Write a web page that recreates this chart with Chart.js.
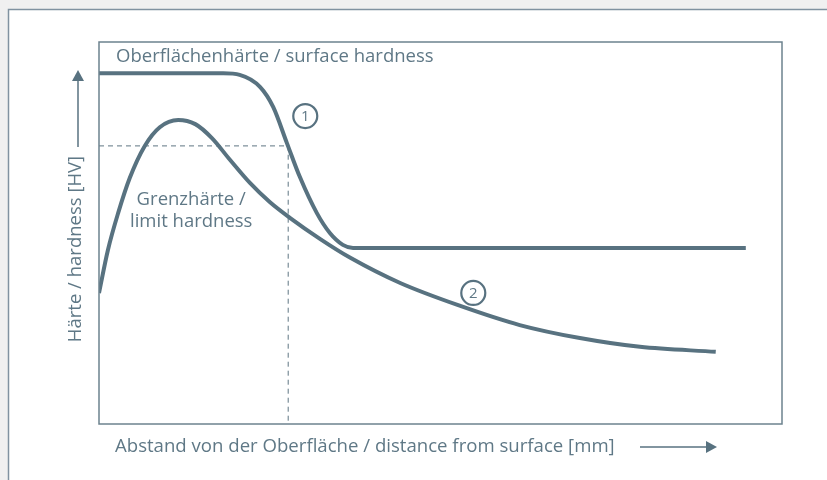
<!DOCTYPE html>
<html>
<head>
<meta charset="utf-8">
<script src="https://cdn.jsdelivr.net/npm/chart.js@4.4.1/dist/chart.umd.min.js"></script>
<style>
	html, body { margin: 0; padding: 0; background: #f0f0f0; }
	#wrap { width: 827px; height: 480px; position: relative; }
</style>
</head>
<body>
<div id="wrap"><canvas id="hardnessChart" width="827" height="480"></canvas></div>
<script>
// distance from surface (relative units 0..100) and hardness (relative units 0..100)
const surfaceX = [0, 10, 18.2, 20.6, 23.6, 25.5, 27.5, 29.4, 31.9, 33.8, 35.7, 37.2, 94.7];
const surfaceY = [91.8, 91.8, 91.8, 91.4, 88.2, 83.0, 73.6, 64.7, 55.2, 50.0, 46.9, 46.1, 46.1];

const limitX = [0, 1.3, 2.8, 4.5, 6.7, 8.9, 11.6, 14.1, 16.5, 19.2, 22.1, 25.0, 28.0, 32.4, 36.8, 44.1, 52.9, 61.6, 70.4, 79.2, 90.3];
const limitY = [34.3, 45.5, 55.2, 64.4, 72.8, 77.7, 79.6, 78.5, 74.9, 69.1, 63.1, 58.1, 53.9, 48.4, 43.5, 36.9, 30.9, 25.9, 22.5, 20.2, 18.9];

// limit hardness reference (dashed guide)
const limitHardness = 72.8;
const limitDepth = 27.7;

const labelSurface = 'Oberflächenhärte / surface hardness';
const labelLimit = ['Grenzhärte /', 'limit hardness'];
const titleX = 'Abstand von der Oberfläche / distance from surface [mm]';
const titleY = 'Härte / hardness [HV]';

const lineColor = '#587280';
const textColor = '#5f7886';
const frameColor = '#6c828e';
const fontFamily = '"Open Sans", "Noto Sans", sans-serif';

function toPoints(xs, ys) {
	return xs.map((x, i) => ({ x: x, y: ys[i] }));
}

const annotationPlugin = {
	id: 'annotations',
	beforeDraw(chart) {
		const ctx = chart.ctx;
		ctx.save();
		ctx.fillStyle = '#f0f0f0';
		ctx.fillRect(0, 0, chart.width, chart.height);
		ctx.fillStyle = '#fff';
		ctx.fillRect(8, 9, chart.width, chart.height);
		ctx.strokeStyle = '#8092a0';
		ctx.lineWidth = 1.5;
		ctx.beginPath();
		ctx.moveTo(8.5, chart.height + 5);
		ctx.lineTo(8.5, 9.5);
		ctx.lineTo(chart.width + 5, 9.5);
		ctx.stroke();
		ctx.restore();
	},
	afterDraw(chart) {
		const ctx = chart.ctx;
		const a = chart.chartArea;
		const xs = chart.scales.x;
		const ys = chart.scales.y;
		ctx.save();

		// plot frame
		ctx.strokeStyle = frameColor;
		ctx.lineWidth = 1.5;
		ctx.strokeRect(a.left, a.top, a.right - a.left, a.bottom - a.top);

		ctx.fillStyle = textColor;
		ctx.font = '18.5px ' + fontFamily;
		ctx.textBaseline = 'alphabetic';

		ctx.textAlign = 'left';
		ctx.fillText(labelSurface, xs.getPixelForValue(2.5), ys.getPixelForValue(94.8));

		ctx.textAlign = 'center';
		ctx.fillText(labelLimit[0], xs.getPixelForValue(13.5), ys.getPixelForValue(57.3));
		ctx.fillText(labelLimit[1], xs.getPixelForValue(13.5), ys.getPixelForValue(51.6));

		// circled curve numbers
		[['1', 30.2, 80.6], ['2', 54.8, 34.3]].forEach(([t, x, y]) => {
			const px = xs.getPixelForValue(x);
			const py = ys.getPixelForValue(y);
			ctx.beginPath();
			ctx.arc(px, py, 12, 0, Math.PI * 2);
			ctx.strokeStyle = lineColor;
			ctx.lineWidth = 2.2;
			ctx.stroke();
			ctx.font = '15px ' + fontFamily;
			ctx.textAlign = 'center';
			ctx.textBaseline = 'middle';
			ctx.fillText(t, px, py + 0.5);
		});

		// x axis title + arrow
		ctx.font = '18.6px ' + fontFamily;
		ctx.textBaseline = 'alphabetic';
		ctx.textAlign = 'left';
		ctx.fillText(titleX, a.left + 16, a.bottom + 28);
		ctx.strokeStyle = lineColor;
		ctx.fillStyle = lineColor;
		ctx.lineWidth = 1.5;
		ctx.beginPath();
		ctx.moveTo(640, a.bottom + 23);
		ctx.lineTo(708, a.bottom + 23);
		ctx.stroke();
		ctx.beginPath();
		ctx.moveTo(717, a.bottom + 23);
		ctx.lineTo(706, a.bottom + 17);
		ctx.lineTo(706, a.bottom + 29);
		ctx.closePath();
		ctx.fill();

		// y axis title + arrow
		ctx.save();
		ctx.translate(a.left - 23, 249);
		ctx.rotate(-Math.PI / 2);
		ctx.fillStyle = textColor;
		ctx.font = '18.5px ' + fontFamily;
		ctx.textAlign = 'center';
		ctx.textBaseline = 'middle';
		ctx.fillText(titleY, 0, 0);
		ctx.restore();
		ctx.beginPath();
		ctx.moveTo(a.left - 21, 147);
		ctx.lineTo(a.left - 21, 80);
		ctx.stroke();
		ctx.beginPath();
		ctx.moveTo(a.left - 21, 70);
		ctx.lineTo(a.left - 27, 81);
		ctx.lineTo(a.left - 15, 81);
		ctx.closePath();
		ctx.fill();

		ctx.restore();
	}
};

new Chart(document.getElementById('hardnessChart'), {
	type: 'line',
	data: {
		datasets: [
			{
				label: 'surface',
				data: toPoints(surfaceX, surfaceY),
				borderColor: lineColor,
				borderWidth: 4,
				cubicInterpolationMode: 'monotone',
				pointRadius: 0
			},
			{
				label: 'limit',
				data: toPoints(limitX, limitY),
				borderColor: lineColor,
				borderWidth: 4,
				cubicInterpolationMode: 'monotone',
				pointRadius: 0
			},
			{
				label: 'guide',
				data: [
					{ x: 0, y: limitHardness },
					{ x: limitDepth, y: limitHardness },
					{ x: limitDepth, y: 0 }
				],
				borderColor: '#5f7683',
				borderWidth: 1,
				borderDash: [5, 4],
				tension: 0,
				pointRadius: 0
			}
		]
	},
	options: {
		responsive: false,
		animation: false,
		layout: { padding: { left: 99, right: 45, top: 42, bottom: 56 } },
		plugins: {
			legend: { display: false },
			title: { display: false },
			tooltip: { enabled: false }
		},
		scales: {
			x: { type: 'linear', min: 0, max: 100, display: false },
			y: { type: 'linear', min: 0, max: 100, display: false }
		}
	},
	plugins: [annotationPlugin]
});
</script>
</body>
</html>
